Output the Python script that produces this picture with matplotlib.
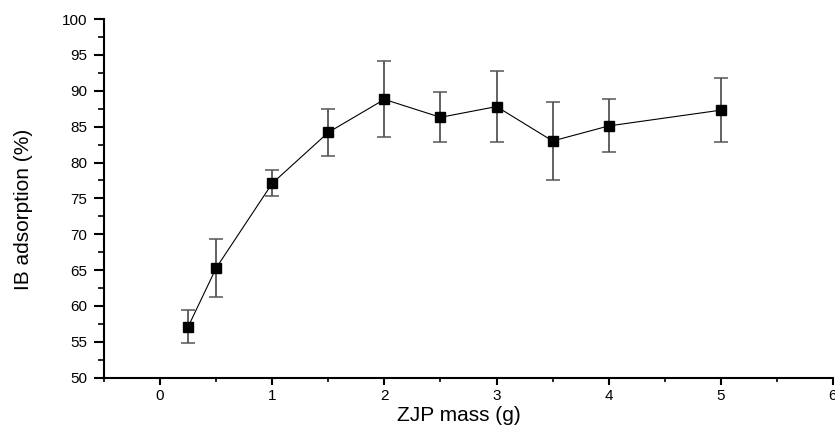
import matplotlib
matplotlib.use('Agg')
import matplotlib.pyplot as plt
from matplotlib.ticker import MultipleLocator

# ZJP mass (g) vs IB adsorption (%)
mass = [0.25, 0.5, 1.0, 1.5, 2.0, 2.5, 3.0, 3.5, 4.0, 5.0]
adsorption = [57.1, 65.3, 77.1, 84.2, 88.8, 86.3, 87.8, 83.0, 85.1, 87.3]
error = [2.3, 4.1, 1.8, 3.3, 5.3, 3.5, 4.9, 5.5, 3.7, 4.5]

plt.rcParams['font.family'] = ['Liberation Sans', 'DejaVu Sans']

fig = plt.figure(figsize=(8.35, 4.29), dpi=100)
ax = fig.add_axes([0.1246, 0.1196, 0.873, 0.836])

ax.errorbar(mass, adsorption, yerr=error, fmt='none', ecolor='#555555',
            elinewidth=1.3, capsize=5, capthick=1.1, zorder=2)
ax.plot(mass, adsorption, color='black', linewidth=0.8, marker='s',
        markersize=6.5, markerfacecolor='black', markeredgecolor='black', zorder=3)

ax.set_xlim(-0.5, 6)
ax.set_ylim(50, 100)
ax.xaxis.set_major_locator(MultipleLocator(1))
ax.xaxis.set_minor_locator(MultipleLocator(0.5))
ax.yaxis.set_major_locator(MultipleLocator(5))
ax.yaxis.set_minor_locator(MultipleLocator(2.5))

for side in ['top', 'right']:
    ax.spines[side].set_visible(False)
for side in ['left', 'bottom']:
    ax.spines[side].set_linewidth(1.5)

ax.tick_params(which='major', direction='out', width=1.5, labelsize=11)
ax.tick_params(axis='y', which='major', length=7, pad=5)
ax.tick_params(axis='x', which='major', length=5, pad=3)
ax.tick_params(axis='y', which='minor', direction='out', length=4, width=1.2)
ax.tick_params(axis='x', which='minor', direction='out', length=3, width=1.2)

ax.set_xlabel('ZJP mass (g)', fontsize=15)
ax.xaxis.set_label_coords(0.487, -0.079)
ax.set_ylabel('IB adsorption (%)', fontsize=15,
              family=['Liberation Sans Narrow', 'Liberation Sans', 'DejaVu Sans'])
ax.yaxis.set_label_coords(-0.097, 0.47)

fig.savefig('out.png', dpi=100)
